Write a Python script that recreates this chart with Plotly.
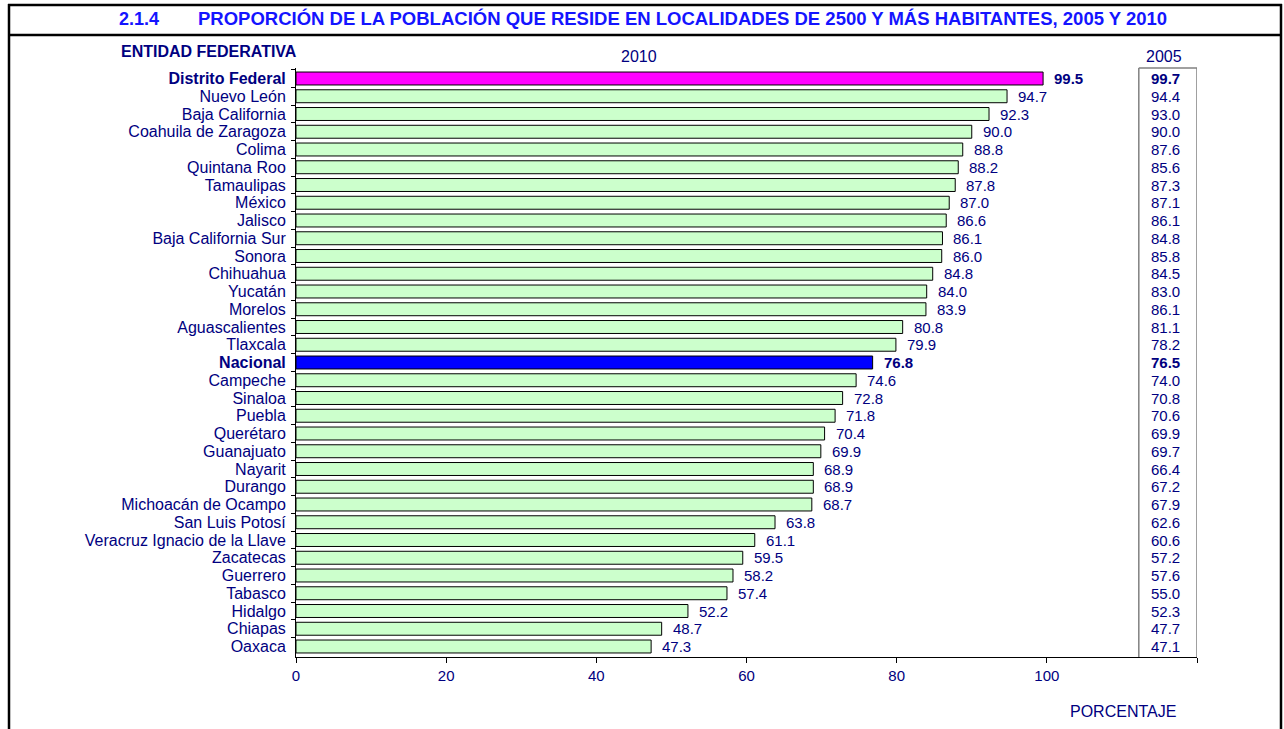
import plotly.graph_objects as go

entidades = ["Distrito Federal", "Nuevo León", "Baja California", "Coahuila de Zaragoza", "Colima",
             "Quintana Roo", "Tamaulipas", "México", "Jalisco", "Baja California Sur", "Sonora",
             "Chihuahua", "Yucatán", "Morelos", "Aguascalientes", "Tlaxcala", "Nacional", "Campeche",
             "Sinaloa", "Puebla", "Querétaro", "Guanajuato", "Nayarit", "Durango", "Michoacán de Ocampo",
             "San Luis Potosí", "Veracruz Ignacio de la Llave", "Zacatecas", "Guerrero", "Tabasco",
             "Hidalgo", "Chiapas", "Oaxaca"]
valores_2010 = [99.5, 94.7, 92.3, 90.0, 88.8, 88.2, 87.8, 87.0, 86.6, 86.1, 86.0, 84.8, 84.0, 83.9,
                80.8, 79.9, 76.8, 74.6, 72.8, 71.8, 70.4, 69.9, 68.9, 68.9, 68.7, 63.8, 61.1, 59.5,
                58.2, 57.4, 52.2, 48.7, 47.3]
valores_2005 = [99.7, 94.4, 93.0, 90.0, 87.6, 85.6, 87.3, 87.1, 86.1, 84.8, 85.8, 84.5, 83.0, 86.1,
                81.1, 78.2, 76.5, 74.0, 70.8, 70.6, 69.9, 69.7, 66.4, 67.2, 67.9, 62.6, 60.6, 57.2,
                57.6, 55.0, 52.3, 47.7, 47.1]
x_ticks = [0, 20, 40, 60, 80, 100, 120]
x_ticklabels = ["0", "20", "40", "60", "80", "100", ""]

NAVY = "#000080"
TITLE_BLUE = "#1414FF"
FONT = "Liberation Sans, Arial, sans-serif"
highlight = {"Distrito Federal": "#FF00FF", "Nacional": "#0000FF"}

W, H = 1284, 729
ML, MR, MT, MB = 296, 87, 68, 72
PW, PH = W - ML - MR, H - MT - MB


def px(x):
    return (x - ML) / PW


def py(y):
    return (H - MB - y) / PH


def bold(name, s):
    return f"<b>{s}</b>" if name in highlight else s


labels = [bold(n, n) for n in entidades]
colors = [highlight.get(n, "#CCFFCC") for n in entidades]

fig = go.Figure(go.Bar(
    x=valores_2010, y=labels, orientation="h",
    marker=dict(color=colors, line=dict(color="black", width=1)),
    hoverinfo="x+y",
))

ann = []
for n, lab, v10, v05 in zip(entidades, labels, valores_2010, valores_2005):
    ann.append(dict(x=v10, y=lab, xref="x", yref="y", text=bold(n, f"{v10:.1f}"),
                    xanchor="left", xshift=9, showarrow=False,
                    font=dict(family=FONT, size=15, color=NAVY)))
    ann.append(dict(x=120, y=lab, xref="x", yref="y", text=bold(n, f"{v05:.1f}"),
                    xanchor="right", xshift=-15, showarrow=False,
                    font=dict(family=FONT, size=15, color=NAVY)))

ann += [
    dict(x=px(117), y=py(19), xref="paper", yref="paper", text="<b>2.1.4</b>", xanchor="left",
         yanchor="middle", showarrow=False, font=dict(family=FONT, size=18, color=TITLE_BLUE)),
    dict(x=px(196), y=py(19), xref="paper", yref="paper",
         text="<b>PROPORCIÓN DE LA POBLACIÓN QUE RESIDE EN LOCALIDADES DE 2500 Y MÁS HABITANTES, 2005 Y 2010</b>",
         xanchor="left", yanchor="middle", showarrow=False, font=dict(family=FONT, size=18.5, color=TITLE_BLUE)),
    dict(x=px(119), y=py(51), xref="paper", yref="paper", text="<b>ENTIDAD FEDERATIVA</b>", xanchor="left",
         yanchor="middle", showarrow=False, font=dict(family=FONT, size=16, color=NAVY)),
    dict(x=px(639), y=py(57), xref="paper", yref="paper", text="2010", xanchor="center",
         yanchor="middle", showarrow=False, font=dict(family=FONT, size=16, color=NAVY)),
    dict(x=px(1164), y=py(57), xref="paper", yref="paper", text="2005", xanchor="center",
         yanchor="middle", showarrow=False, font=dict(family=FONT, size=16, color=NAVY)),
    dict(x=px(1123), y=py(711), xref="paper", yref="paper", text="PORCENTAJE", xanchor="center",
         yanchor="middle", showarrow=False, font=dict(family=FONT, size=16, color=NAVY)),
]

shapes = [
    # outer frame
    dict(type="line", xref="paper", yref="paper", x0=px(9), x1=px(9), y0=py(4), y1=py(740),
         line=dict(color="black", width=2.5)),
    dict(type="line", xref="paper", yref="paper", x0=px(1281), x1=px(1281), y0=py(4), y1=py(740),
         line=dict(color="black", width=2.5)),
    dict(type="line", xref="paper", yref="paper", x0=px(8), x1=px(1282), y0=py(5), y1=py(5),
         line=dict(color="black", width=2.5)),
    dict(type="line", xref="paper", yref="paper", x0=px(8), x1=px(1282), y0=py(35), y1=py(35),
         line=dict(color="black", width=2.5)),
    # 2005 column box
    dict(type="line", xref="x", yref="paper", x0=112.25, x1=112.25, y0=0, y1=1,
         line=dict(color="#808080", width=1.5)),
    dict(type="line", xref="x", yref="paper", x0=120, x1=120, y0=0, y1=1,
         line=dict(color="#808080", width=1.5)),
    dict(type="line", xref="x", yref="paper", x0=112.25, x1=120, y0=1, y1=1,
         line=dict(color="#808080", width=1.5)),
]

fig.update_layout(
    width=W, height=H,
    margin=dict(l=ML, r=MR, t=MT, b=MB),
    paper_bgcolor="white", plot_bgcolor="white",
    bargap=0.27, showlegend=False,
    annotations=ann, shapes=shapes,
    font=dict(family=FONT, size=15, color=NAVY),
    xaxis=dict(range=[0, 120], tickvals=x_ticks, ticktext=x_ticklabels, ticks="outside", ticklen=5,
               tickcolor="black", showline=True, linecolor="black", linewidth=1, showgrid=False,
               zeroline=False, tickfont=dict(family=FONT, size=15, color=NAVY)),
    yaxis=dict(autorange="reversed", type="category", tickmode="linear", tick0=0, dtick=1,
               ticks="outside", ticklen=4, tickcolor="black",
               tickson="boundaries", showline=True, linecolor="black", linewidth=1, showgrid=False,
               ticklabelstandoff=6,
               tickfont=dict(family=FONT, size=16, color=NAVY)),
)

fig.write_html("out.html", config={"displayModeBar": False},
               post_script="document.body.style.margin='0';")
